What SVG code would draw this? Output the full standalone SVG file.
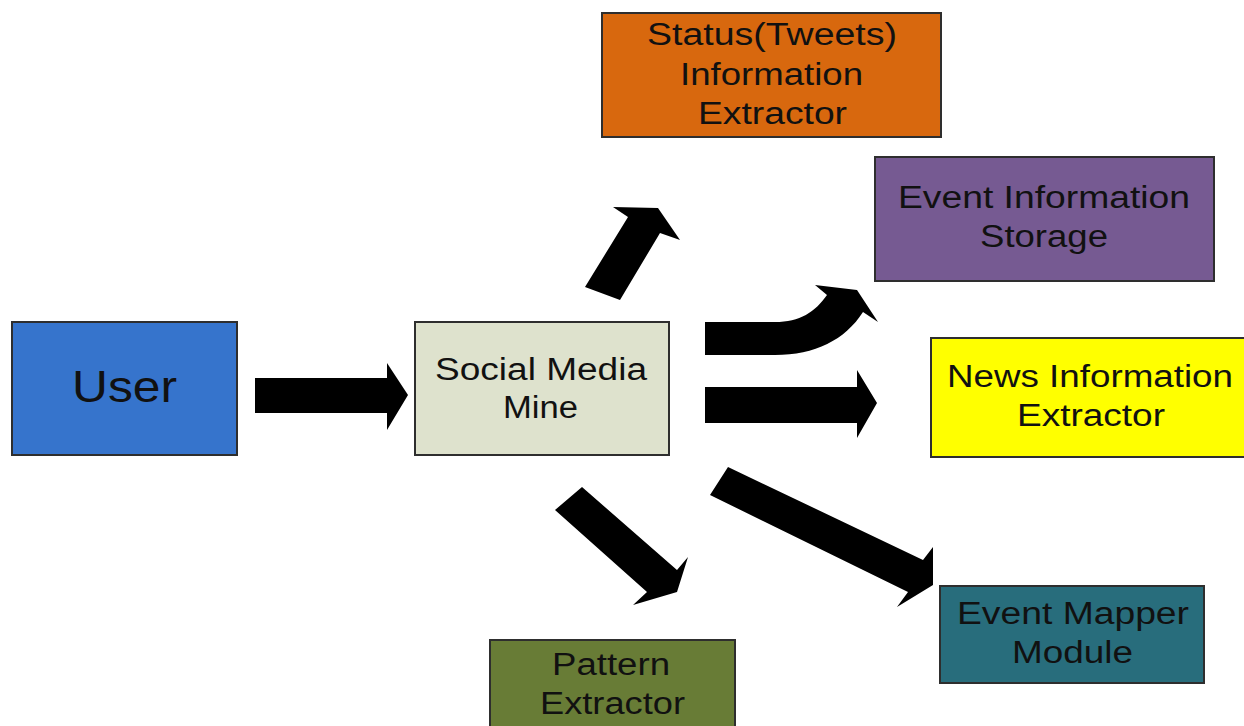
<svg xmlns="http://www.w3.org/2000/svg" width="1244" height="726" viewBox="0 0 1244 726">
  <style>
    .box { stroke: #2e2e2e; stroke-width: 2; }
    .lbl { font-family: "Liberation Sans", Arial, sans-serif; font-size: 31px; fill: #111111; }
    .arrow { fill: #000000; }
  </style>
  <rect width="1244" height="726" fill="#ffffff"/>

  <!-- connectors: block arrows -->
  <g id="connectors">
    <polygon class="arrow" points="255,378 387,378 387,363 408,395 387,430 387,413 255,413"/>
    <polygon class="arrow" points="585,287 628,217 613,207 658,208 680,240 660,233 620,300"/>
    <path class="arrow" d="M705,322 L775,322 C800,322 815,312 827,295 L815,285 L857,290 L878,322 L863,312 C845,340 815,355 775,355 L705,355 Z"/>
    <polygon class="arrow" points="705,387 857,387 857,370 877,403 857,438 857,423 705,423"/>
    <polygon class="arrow" points="555,510 582,487 677,570 688,557 677,592 633,605 647,592"/>
    <polygon class="arrow" points="710,495 728,467 923,560 933,547 933,585 897,607 908,592"/>
  </g>

  <g id="user">
    <rect class="box" x="12" y="322" width="225" height="133" fill="#3674cc"/>
    <text class="lbl" x="72" y="402" style="font-size:45px" textLength="105" lengthAdjust="spacingAndGlyphs">User</text>
  </g>

  <g id="social-media-mine">
    <rect class="box" x="415" y="322" width="254" height="133" fill="#dee2cd"/>
    <text class="lbl" x="435" y="380" textLength="212" lengthAdjust="spacingAndGlyphs">Social Media</text>
    <text class="lbl" x="503" y="418" textLength="75" lengthAdjust="spacingAndGlyphs">Mine</text>
  </g>

  <g id="status-extractor">
    <rect class="box" x="602" y="13" width="339" height="124" fill="#d8680e"/>
    <text class="lbl" x="647" y="45" textLength="250" lengthAdjust="spacingAndGlyphs">Status(Tweets)</text>
    <text class="lbl" x="680" y="85" textLength="183" lengthAdjust="spacingAndGlyphs">Information</text>
    <text class="lbl" x="698" y="124" textLength="149" lengthAdjust="spacingAndGlyphs">Extractor</text>
  </g>

  <g id="event-storage">
    <rect class="box" x="875" y="157" width="339" height="124" fill="#765a92"/>
    <text class="lbl" x="898" y="208" textLength="292" lengthAdjust="spacingAndGlyphs">Event Information</text>
    <text class="lbl" x="980" y="247" textLength="128" lengthAdjust="spacingAndGlyphs">Storage</text>
  </g>

  <g id="news-extractor">
    <rect class="box" x="931" y="338" width="320" height="119" fill="#ffff00"/>
    <text class="lbl" x="947" y="387" textLength="286" lengthAdjust="spacingAndGlyphs">News Information</text>
    <text class="lbl" x="1017" y="426" textLength="148" lengthAdjust="spacingAndGlyphs">Extractor</text>
  </g>

  <g id="event-mapper">
    <rect class="box" x="940" y="586" width="264" height="97" fill="#286d7c"/>
    <text class="lbl" x="957" y="624" textLength="232" lengthAdjust="spacingAndGlyphs">Event Mapper</text>
    <text class="lbl" x="1012" y="663" textLength="121" lengthAdjust="spacingAndGlyphs">Module</text>
  </g>

  <g id="pattern-extractor">
    <rect class="box" x="490" y="640" width="245" height="100" fill="#687c36"/>
    <text class="lbl" x="552" y="675" textLength="118" lengthAdjust="spacingAndGlyphs">Pattern</text>
    <text class="lbl" x="540" y="714" textLength="145" lengthAdjust="spacingAndGlyphs">Extractor</text>
  </g>
</svg>
